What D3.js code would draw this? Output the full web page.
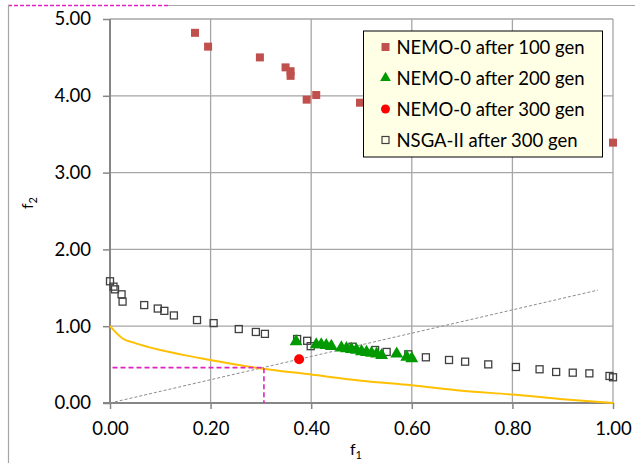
<!DOCTYPE html>
<html>
<head>
<meta charset="utf-8">
<script src="https://cdnjs.cloudflare.com/ajax/libs/d3/7.8.5/d3.min.js"></script>
<style>
body { margin: 0; background: #fff; }
text { font-family: Lato, "Open Sans", sans-serif; fill: #000; }
</style>
</head>
<body>
<div id="chart"></div>
<script>
// NEMO-0 after 100 gen
const gen100X = [0.169, 0.195, 0.298, 0.349, 0.359, 0.359, 0.391, 0.41, 0.497, 1.0];
const gen100Y = [4.82, 4.64, 4.50, 4.37, 4.32, 4.26, 3.95, 4.01, 3.91, 3.39];
// NEMO-0 after 200 gen
const gen200X = [0.37, 0.41, 0.42, 0.43, 0.44, 0.46, 0.47, 0.48, 0.49, 0.50, 0.51, 0.52, 0.53, 0.54, 0.57, 0.59, 0.60];
const gen200Y = [0.80, 0.76, 0.76, 0.75, 0.74, 0.72, 0.71, 0.70, 0.69, 0.67, 0.66, 0.65, 0.64, 0.62, 0.64, 0.60, 0.58];
// NEMO-0 after 300 gen
const gen300X = [0.376];
const gen300Y = [0.57];
// NSGA-II after 300 gen
const nsgaX = [0, 0.007, 0.01, 0.023, 0.025, 0.068, 0.095, 0.108, 0.127, 0.173, 0.206, 0.256, 0.29, 0.308, 0.372, 0.392, 0.399,
    0.482, 0.527, 0.55, 0.593, 0.628, 0.674, 0.706, 0.752, 0.807, 0.854, 0.887, 0.92, 0.953, 0.993, 1.0];
const nsgaY = [1.585, 1.515, 1.48, 1.415, 1.32, 1.275, 1.23, 1.2, 1.14, 1.08, 1.04, 0.963, 0.925, 0.90, 0.833, 0.81, 0.74,
    0.733, 0.69, 0.665, 0.634, 0.595, 0.56, 0.538, 0.503, 0.469, 0.439, 0.404, 0.395, 0.386, 0.352, 0.335];
// true front (orange)
const frontX = [0, 0.025, 0.05, 0.1, 0.15, 0.2, 0.25, 0.3, 0.4, 0.5, 0.6, 0.7, 0.8, 0.9, 1.0];
const frontY = [1.0, 0.84, 0.78, 0.69, 0.62, 0.56, 0.50, 0.45, 0.37, 0.29, 0.23, 0.16, 0.11, 0.05, 0.0];
// reference direction (dotted grey)
const refX = [0, 0.97];
const refY = [0, 1.47];
// magenta guide
const guideX = [0.005, 0.306, 0.306];
const guideY = [0.46, 0.46, 0];

const xTicks = [0, 0.2, 0.4, 0.6, 0.8, 1.0];
const yTicks = [0, 1, 2, 3, 4, 5];
const legendLabels = ["NEMO-0 after 100 gen", "NEMO-0 after 200 gen", "NEMO-0 after 300 gen", "NSGA-II after 300 gen"];

const margin = {top: 19, right: 22, bottom: 60, left: 110},
    width = 635 - margin.left - margin.right,
    height = 463 - margin.top - margin.bottom;

const root = d3.select("#chart")
    .append("svg")
    .attr("width", 635)
    .attr("height", 463);

// chart frame (partly cropped)
root.append("line").attr("x1", 168).attr("x2", 635).attr("y1", 5.5).attr("y2", 5.5)
    .attr("stroke", "#a6a6a6").attr("stroke-width", 1.2);
root.append("line").attr("x1", 8).attr("x2", 168).attr("y1", 5.5).attr("y2", 5.5)
    .attr("stroke", "#e020c0").attr("stroke-width", 1.5).attr("stroke-dasharray", "4,2");
root.append("line").attr("x1", 8.5).attr("x2", 8.5).attr("y1", 5).attr("y2", 463)
    .attr("stroke", "#a6a6a6").attr("stroke-width", 1.2);

const svg = root.append("g")
    .attr("transform", `translate(${margin.left},${margin.top})`);

const xScale = d3.scaleLinear().domain([0, 1]).range([0, width]);
const yScale = d3.scaleLinear().domain([0, 5]).range([height, 0]);

// grid
svg.append("g")
    .selectAll("line")
    .data(xTicks.slice(1))
    .enter()
    .append("line")
    .attr("x1", d => xScale(d)).attr("x2", d => xScale(d))
    .attr("y1", 0).attr("y2", height)
    .attr("stroke", "#a6a6a6").attr("stroke-width", 1.3);
svg.append("g")
    .selectAll("line")
    .data(yTicks.slice(1))
    .enter()
    .append("line")
    .attr("x1", 0).attr("x2", width)
    .attr("y1", d => yScale(d)).attr("y2", d => yScale(d))
    .attr("stroke", "#a6a6a6").attr("stroke-width", 1.3);

// axes
const xAxis = svg.append("g")
    .attr("transform", `translate(0, ${height})`)
    .call(d3.axisBottom(xScale).tickValues(xTicks).tickFormat(d3.format(".2f")).tickSizeOuter(0).tickSizeInner(6).tickPadding(13));
const yAxis = svg.append("g")
    .call(d3.axisLeft(yScale).tickValues(yTicks).tickFormat(d3.format(".2f")).tickSizeOuter(0).tickSizeInner(7).tickPadding(12));
[xAxis, yAxis].forEach(a => {
    a.select(".domain").attr("stroke", "#868686").attr("stroke-width", 2);
    a.selectAll(".tick line").attr("stroke", "#868686").attr("stroke-width", 1.5);
    a.selectAll(".tick text").attr("font-size", "18.5px").attr("font-family", "Lato, sans-serif").attr("fill", "#000");
});
yAxis.select(".domain").attr("d", `M0,0V${height + 0}`);
xAxis.select(".domain").attr("d", `M-7,0H${width}`);

// lines
const line = d3.line().x(d => xScale(d[0])).y(d => yScale(d[1]));

svg.append("path")
    .datum(refX.map((x, i) => [x, refY[i]]))
    .attr("d", line)
    .attr("fill", "none")
    .attr("stroke", "#8c8c8c")
    .attr("stroke-width", 1)
    .attr("stroke-dasharray", "3,2");

svg.append("path")
    .datum(frontX.map((x, i) => [x, frontY[i]]))
    .attr("d", line.curve(d3.curveMonotoneX))
    .attr("fill", "none")
    .attr("stroke", "#ffc000")
    .attr("stroke-width", 2);
line.curve(d3.curveLinear);

svg.append("path")
    .datum(guideX.map((x, i) => [x, guideY[i]]))
    .attr("d", line)
    .attr("fill", "none")
    .attr("stroke", "#e020c0")
    .attr("stroke-width", 1.6)
    .attr("stroke-dasharray", "5,3");

// NSGA-II hollow squares
svg.append("g")
    .selectAll("rect")
    .data(nsgaX.map((x, i) => [x, nsgaY[i]]))
    .enter()
    .append("rect")
    .attr("x", d => xScale(d[0]) - 3.5)
    .attr("y", d => yScale(d[1]) - 3.5)
    .attr("width", 7).attr("height", 7)
    .attr("fill", "none")
    .attr("stroke", "#404040")
    .attr("stroke-width", 1.3);

// NEMO-0 100 gen
svg.append("g")
    .selectAll("rect")
    .data(gen100X.map((x, i) => [x, gen100Y[i]]))
    .enter()
    .append("rect")
    .attr("x", d => xScale(d[0]) - 4)
    .attr("y", d => yScale(d[1]) - 4)
    .attr("width", 8).attr("height", 8)
    .attr("fill", "#c0504d");

// NEMO-0 200 gen
const tri = d3.symbol().type(d3.symbolTriangle).size(72);
svg.append("g")
    .selectAll("path")
    .data(gen200X.map((x, i) => [x, gen200Y[i]]))
    .enter()
    .append("path")
    .attr("d", tri)
    .attr("transform", d => `translate(${xScale(d[0])},${yScale(d[1])})`)
    .attr("fill", "#009a00");

// NEMO-0 300 gen
svg.append("g")
    .selectAll("circle")
    .data(gen300X.map((x, i) => [x, gen300Y[i]]))
    .enter()
    .append("circle")
    .attr("cx", d => xScale(d[0]))
    .attr("cy", d => yScale(d[1]))
    .attr("r", 5)
    .attr("fill", "#ff0000");

// axis titles
svg.append("text")
    .attr("x", 240).attr("y", height + 52)
    .attr("font-size", "16px")
    .html('f<tspan font-size="11px" dy="4">1</tspan>');
svg.append("text")
    .attr("transform", `translate(-77, 190) rotate(-90)`)
    .attr("font-size", "16px")
    .html('f<tspan font-size="11px" dy="4">2</tspan>');

// legend
const legend = svg.append("g")
    .attr("transform", `translate(${363.5 - margin.left},${31 - margin.top})`);
legend.append("rect")
    .attr("width", 239).attr("height", 126)
    .attr("fill", "#ffffe6")
    .attr("stroke", "#000")
    .attr("stroke-width", 1);
const rowY = d3.scalePoint().domain(legendLabels).range([16, 109]);
legend.selectAll("text")
    .data(legendLabels)
    .enter()
    .append("text")
    .attr("x", 33)
    .attr("y", d => rowY(d) + 6.5)
    .attr("font-size", "18.5px")
    .text(d => d);
legend.append("rect").attr("x", 18).attr("y", rowY(legendLabels[0]) - 4).attr("width", 8).attr("height", 8).attr("fill", "#c0504d");
legend.append("path").attr("d", d3.symbol().type(d3.symbolTriangle).size(50)).attr("transform", `translate(22,${rowY(legendLabels[1])})`).attr("fill", "#009a00");
legend.append("circle").attr("cx", 22).attr("cy", rowY(legendLabels[2])).attr("r", 4.5).attr("fill", "#ff0000");
legend.append("rect").attr("x", 18.5).attr("y", rowY(legendLabels[3]) - 3.5).attr("width", 7).attr("height", 7)
    .attr("fill", "none").attr("stroke", "#404040").attr("stroke-width", 1.2);
</script>
</body>
</html>
